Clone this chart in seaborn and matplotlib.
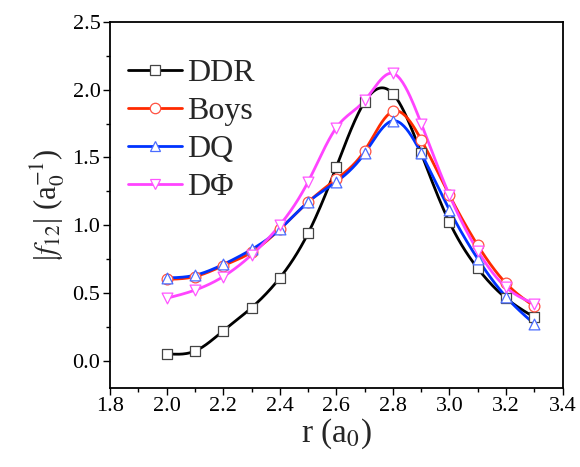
import matplotlib
matplotlib.use("Agg")
import matplotlib.pyplot as plt
import numpy as np
import pandas as pd
import seaborn as sns
from matplotlib.lines import Line2D
from matplotlib.ticker import MultipleLocator

# data
r = [2.0, 2.1, 2.2, 2.3, 2.4, 2.5, 2.6, 2.7, 2.8, 2.9, 3.0, 3.1, 3.2, 3.3]
ddr = [0.05, 0.07, 0.22, 0.39, 0.61, 0.94, 1.43, 1.91, 1.97, 1.53, 1.02, 0.68, 0.46, 0.32]
boys = [0.60, 0.62, 0.70, 0.80, 0.97, 1.17, 1.34, 1.55, 1.84, 1.63, 1.22, 0.85, 0.57, 0.40]
dq = [0.61, 0.63, 0.71, 0.82, 0.97, 1.17, 1.32, 1.53, 1.77, 1.53, 1.11, 0.75, 0.47, 0.27]
dphi = [0.46, 0.52, 0.62, 0.78, 1.00, 1.32, 1.72, 1.92, 2.12, 1.75, 1.22, 0.81, 0.54, 0.42]

names = ["DDR", "Boys", "DQ", "D\u03a6"]
series = [ddr, boys, dq, dphi]
line_cols = ["black", "#ff2a00", "#0033ff", "#ff44ff"]
mark_cols = ["#444444", "#ff5040", "#4a6cff", "#ff55ff"]
markers = ["s", "o", "^", "v"]


def spline(x, y, n=300):
    # natural cubic spline, just for drawing the connecting curve
    x = np.asarray(x, float)
    y = np.asarray(y, float)
    h = np.diff(x)
    m = len(x)
    A = np.zeros((m, m))
    b = np.zeros(m)
    A[0, 0] = A[-1, -1] = 1
    for i in range(1, m - 1):
        A[i, i - 1] = h[i - 1]
        A[i, i] = 2 * (h[i - 1] + h[i])
        A[i, i + 1] = h[i]
        b[i] = 3 * ((y[i + 1] - y[i]) / h[i] - (y[i] - y[i - 1]) / h[i - 1])
    c = np.linalg.solve(A, b)
    xs = np.linspace(x[0], x[-1], n)
    idx = np.clip(np.searchsorted(x, xs) - 1, 0, m - 2)
    dx = xs - x[idx]
    bb = (y[idx + 1] - y[idx]) / h[idx] - h[idx] * (2 * c[idx] + c[idx + 1]) / 3
    d = (c[idx + 1] - c[idx]) / (3 * h[idx])
    return xs, y[idx] + bb * dx + c[idx] * dx ** 2 + d * dx ** 3


sns.set_style("ticks")
plt.rcParams["font.family"] = ["Liberation Serif", "DejaVu Serif"]
plt.rcParams["mathtext.fontset"] = "stix"

fig, ax = plt.subplots(figsize=(5.8, 4.67), dpi=100)

handles = []
for name, y, lc, mc, mk in zip(names, series, line_cols, mark_cols, markers):
    xs, ys = spline(r, y)
    sns.lineplot(x=xs, y=ys, color=lc, linewidth=2, ax=ax, sort=False)
    sns.scatterplot(x=r, y=y, marker=mk, s=60, facecolor="white",
                    edgecolor=mc, linewidth=0.9, ax=ax, zorder=3)
    handles.append(Line2D([], [], color=lc, linewidth=2, marker=mk, markersize=7.5,
                          markerfacecolor="white", markeredgecolor=mc,
                          markeredgewidth=0.9, label=name))

ax.set_xlim(1.8, 3.4)
ax.set_ylim(-0.2, 2.5)
ax.xaxis.set_major_locator(MultipleLocator(0.2))
ax.xaxis.set_minor_locator(MultipleLocator(0.1))
ax.yaxis.set_major_locator(MultipleLocator(0.5))
ax.yaxis.set_minor_locator(MultipleLocator(0.25))
ax.set_xticks(np.arange(1.8, 3.41, 0.2))
ax.set_xticklabels([f"{v:.1f}" for v in np.arange(1.8, 3.41, 0.2)])
ax.tick_params(which="major", direction="out", length=5, width=1, labelsize=16,
               color="black", labelcolor="black", pad=2)
ax.tick_params(which="minor", direction="out", length=3, width=1, color="black")
for s in ax.spines.values():
    s.set_linewidth(1.3)
    s.set_color("black")
    s.set_visible(True)

ax.set_xlabel("r (a$_0$)", fontsize=24, labelpad=0)
ax.set_ylabel("|$f_{12}$| (a$_0^{-1}$)", fontsize=22, labelpad=4)

ax.legend(handles=handles, loc="upper left", bbox_to_anchor=(-0.01, 0.96),
          frameon=False, fontsize=23, handlelength=1.7, handletextpad=0.15,
          labelspacing=0.27, borderaxespad=0.3)

fig.subplots_adjust(left=0.19, right=0.97, bottom=0.17, top=0.953)
fig.savefig("out.png", dpi=100)
